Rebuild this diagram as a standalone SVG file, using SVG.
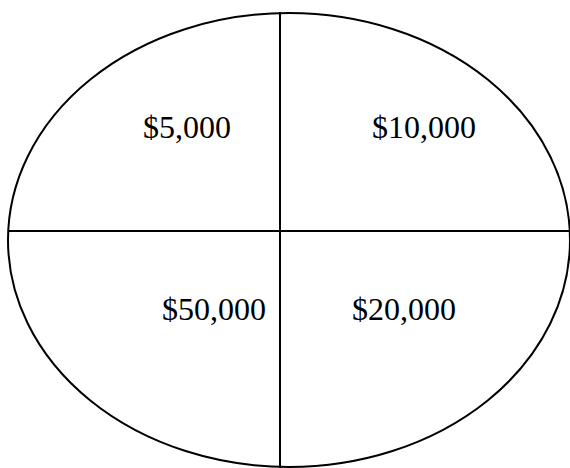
<svg xmlns="http://www.w3.org/2000/svg" width="570" height="468" viewBox="0 0 570 468">
<style>
.shape{fill:none;stroke:#000;stroke-width:2}
.ln{stroke:#000;stroke-width:2}
.lbl{font-family:"Liberation Serif","Times New Roman",serif;font-size:32px;fill:#000}
</style>
<rect width="570" height="468" fill="#fff"/>
<g id="oval">
<ellipse class="shape" cx="289" cy="240" rx="281" ry="227"/>
</g>
<g id="connectors">
<line class="ln" x1="9" y1="231" x2="570" y2="231"/>
<line class="ln" x1="280" y1="12" x2="280" y2="468"/>
</g>
<g id="q1"><text class="lbl" x="143" y="138">$5,000</text></g>
<g id="q2"><text class="lbl" x="372" y="138">$10,000</text></g>
<g id="q3"><text class="lbl" x="162" y="320">$50,000</text></g>
<g id="q4"><text class="lbl" x="352" y="320">$20,000</text></g>
</svg>
